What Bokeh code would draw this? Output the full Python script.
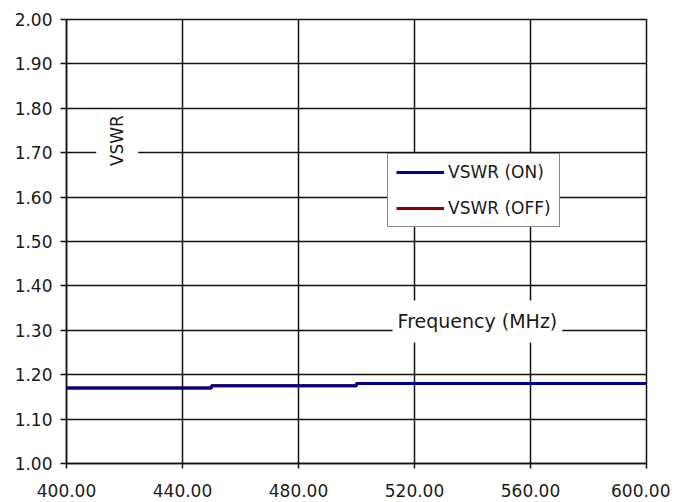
import math
from bokeh.plotting import figure
from bokeh.models import Label, Legend, LegendItem, FixedTicker, NumeralTickFormatter, Range1d
from bokeh.embed import file_html
from bokeh.resources import INLINE

# data
freq_mhz = [400, 450, 500, 600]
vswr_on = [1.170, 1.175, 1.180, 1.180]
vswr_off = [1.170, 1.175, 1.180, 1.180]
x_ticks = [400, 440, 480, 520, 560, 600]
y_ticks = [1.0, 1.1, 1.2, 1.3, 1.4, 1.5, 1.6, 1.7, 1.8, 1.9, 2.0]

FONT = "DejaVu Sans"

p = figure(width=670, height=499, output_backend="svg", toolbar_location=None,
           x_range=Range1d(400, 600), y_range=Range1d(1.0, 2.0),
           min_border_left=66, min_border_right=24, min_border_top=19, min_border_bottom=20)

p.background_fill_color = "white"
p.border_fill_color = "white"
p.outline_line_color = "#111111"
p.outline_line_width = 1.5

for ax in (p.xaxis[0], p.yaxis[0]):
    ax.axis_line_color = "#111111"
    ax.axis_line_width = 1.5
    ax.major_tick_line_color = "#111111"
    ax.major_tick_line_width = 1.5
    ax.minor_tick_line_color = None
    ax.major_tick_in = 0
    ax.major_label_text_font = FONT
    ax.major_label_text_color = "#1a1a1a"

p.xaxis.ticker = FixedTicker(ticks=x_ticks)
p.yaxis.ticker = FixedTicker(ticks=y_ticks)
p.xaxis.formatter = NumeralTickFormatter(format="0.00")
p.yaxis.formatter = NumeralTickFormatter(format="0.00")
p.xaxis.major_tick_out = 5
p.yaxis.major_tick_out = 6
p.xaxis.major_label_standoff = 15
p.yaxis.major_label_standoff = 8
p.xaxis.major_label_text_font_size = "17px"
p.yaxis.major_label_text_font_size = "17px"

p.grid.grid_line_color = "#111111"
p.grid.grid_line_width = 1.5
p.grid.grid_line_alpha = 1.0

r_off = p.step(freq_mhz, vswr_off, mode="after", line_color="#8B0000", line_width=3)
r_on = p.step(freq_mhz, vswr_on, mode="after", line_color="#00008B", line_width=3)

# axis titles drawn inside the plot with white boxes
ylab = Label(x=417.5, y=1.727, text="VSWR", angle=math.pi / 2,
             text_align="center", text_baseline="middle",
             text_font=FONT, text_font_size="17px", text_color="#1a1a1a",
             background_fill_color="white", background_fill_alpha=1.0,
             padding=dict(left=4, right=4, top=11, bottom=11))
xlab = Label(x=541.7, y=1.32, text="Frequency (MHz)",
             text_align="center", text_baseline="middle",
             text_font=FONT, text_font_size="19px", text_color="#1a1a1a",
             background_fill_color="white", background_fill_alpha=1.0,
             padding=dict(left=5, right=5, top=10, bottom=10))
p.add_layout(ylab)
p.add_layout(xlab)

legend = Legend(items=[LegendItem(label="VSWR (ON)", renderers=[r_on]),
                       LegendItem(label="VSWR (OFF)", renderers=[r_off])],
                location=(321, 236))
legend.glyph_width = 48
legend.glyph_height = 20
legend.label_height = 20
legend.spacing = 16
legend.padding = 8
legend.margin = 0
legend.label_standoff = 4
legend.label_text_font = FONT
legend.label_text_font_size = "17px"
legend.label_text_color = "#1a1a1a"
legend.border_line_color = "#111111"
legend.border_line_width = 1.5
legend.background_fill_color = "white"
legend.background_fill_alpha = 1.0
p.add_layout(legend, "center")

open("out.html", "w").write(file_html(p, INLINE))
